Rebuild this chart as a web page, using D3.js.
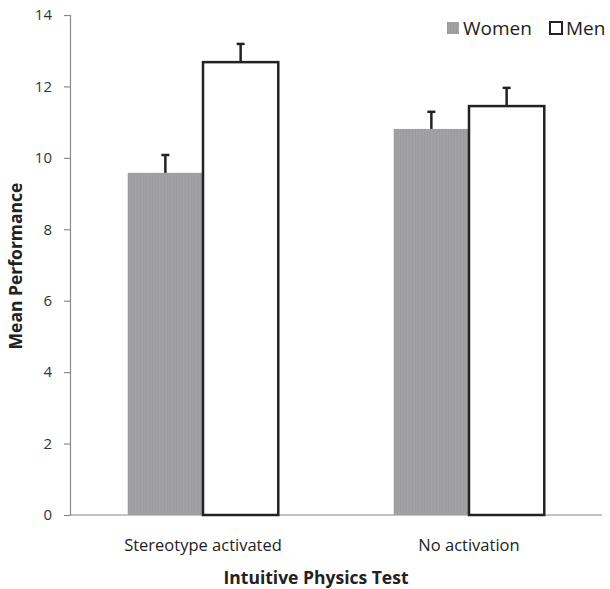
<!DOCTYPE html>
<html><head><meta charset="utf-8">
<script src="https://cdn.jsdelivr.net/npm/d3@7"></script>
<style>body{margin:0;background:#fff}svg{display:block}text{font-family:"Open Sans",Lato,sans-serif}</style>
</head><body><div id="c"></div>
<script>
const categories = ["Stereotype activated", "No activation"];
const seriesNames = ["Women", "Men"];
const women = [9.58, 10.81];
const men = [12.68, 11.45];
const womenErr = [0.5, 0.48];
const menErr = [0.51, 0.51];
const yTicks = [0, 2, 4, 6, 8, 10, 12, 14];

const W = 610, H = 589;
const m = {l: 70, r: 8, t: 15, b: 74};
const svg = d3.select("#c").append("svg").attr("width", W).attr("height", H);

const defs = svg.append("defs");
const pat = defs.append("pattern").attr("id", "grayTex").attr("patternUnits", "userSpaceOnUse").attr("width", 3).attr("height", 3);
pat.append("rect").attr("width", 3).attr("height", 3).attr("fill", "#a2a2a4");
pat.append("rect").attr("width", 1).attr("height", 3).attr("fill", "#9a9a9c");

const x0 = d3.scaleBand().domain(categories).range([m.l, W - m.r]).padding(0);
const barW = x0.bandwidth() * 0.283;
const x1 = d3.scaleBand().domain(seriesNames).range([0, barW * 2]).padding(0);
const y = d3.scaleLinear().domain([0, 14]).range([H - m.b, m.t]);

const data = categories.map((c, i) => ({c, vals: [
  {s: "Women", v: women[i], e: womenErr[i]},
  {s: "Men", v: men[i], e: menErr[i]}
]}));

// axes
const yAxis = svg.append("g").attr("transform", `translate(${m.l},0)`)
  .call(d3.axisLeft(y).tickValues(yTicks).tickSize(6).tickPadding(12));
yAxis.select(".domain").attr("stroke", "#8a8a8a").attr("stroke-width", 1.2);
yAxis.selectAll(".tick line").attr("stroke", "#8a8a8a").attr("stroke-width", 1.2);
yAxis.selectAll("text").attr("font-size", 15).attr("fill", "#333");

svg.append("line").attr("x1", m.l).attr("x2", W - m.r).attr("y1", y(0)).attr("y2", y(0))
  .attr("stroke", "#8a8a8a").attr("stroke-width", 1.2);

const g = svg.selectAll(".grp").data(data).join("g")
  .attr("transform", d => `translate(${x0(d.c) + x0.bandwidth() / 2 - barW},0)`);

g.selectAll("rect").data(d => d.vals).join("rect")
  .attr("x", d => x1(d.s))
  .attr("y", d => y(d.v))
  .attr("width", x1.bandwidth())
  .attr("height", d => y(0) - y(d.v))
  .attr("fill", d => d.s === "Women" ? "url(#grayTex)" : "#fff")
  .attr("stroke", d => d.s === "Men" ? "#222" : "none")
  .attr("stroke-width", 2.5);

// error bars
const eb = g.selectAll(".eb").data(d => d.vals).join("g").attr("class", "eb");
eb.append("line")
  .attr("x1", d => x1(d.s) + x1.bandwidth() / 2).attr("x2", d => x1(d.s) + x1.bandwidth() / 2)
  .attr("y1", d => y(d.v)).attr("y2", d => y(d.v + d.e))
  .attr("stroke", "#222").attr("stroke-width", 2.5);
eb.append("line")
  .attr("x1", d => x1(d.s) + x1.bandwidth() / 2 - 4).attr("x2", d => x1(d.s) + x1.bandwidth() / 2 + 4)
  .attr("y1", d => y(d.v + d.e)).attr("y2", d => y(d.v + d.e))
  .attr("stroke", "#222").attr("stroke-width", 2.5);

// category labels
svg.selectAll(".cat").data(categories).join("text")
  .attr("x", d => x0(d) + x0.bandwidth() / 2).attr("y", 551)
  .attr("text-anchor", "middle").attr("font-size", 16.5).attr("fill", "#222").text(d => d);

// axis titles
svg.append("text").attr("x", 316).attr("y", 584).attr("text-anchor", "middle")
  .attr("font-size", 17.5).attr("font-weight", "bold").attr("fill", "#222").text("Intuitive Physics Test");
svg.append("text").attr("transform", "translate(22,266) rotate(-90)").attr("text-anchor", "middle")
  .attr("font-size", 17.5).attr("font-weight", "bold").attr("fill", "#222").text("Mean Performance");

// legend
const leg = svg.append("g");
const legX = [447, 550];
seriesNames.forEach((s, i) => {
  leg.append("rect").attr("x", legX[i]).attr("y", 22).attr("width", 12).attr("height", 12)
    .attr("fill", s === "Women" ? "url(#grayTex)" : "#fff")
    .attr("stroke", s === "Men" ? "#222" : "none").attr("stroke-width", 2);
  leg.append("text").attr("x", legX[i] + 16).attr("y", 35).attr("font-size", 19).attr("fill", "#222").text(s);
});
</script></body></html>
